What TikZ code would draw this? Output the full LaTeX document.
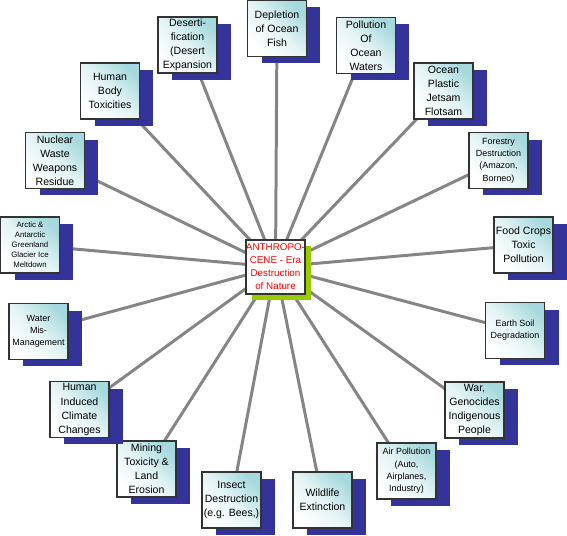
\documentclass[tikz,border=0pt]{standalone}
\usepackage{fontspec}
\setmainfont{Liberation Sans}
\usetikzlibrary{shadows,backgrounds}
\definecolor{anthnavy}{HTML}{333399}
\definecolor{anthteal}{HTML}{A6D9DD}
\definecolor{anthlime}{HTML}{99CC00}
\definecolor{anthlink}{HTML}{858585}
\definecolor{anthred}{HTML}{FF0000}

\begin{document}
\begin{tikzpicture}[x=0.02cm,y=-0.02cm,
  issue/.style={rectangle,draw=black!80,line width=.7pt,top color=anthteal,bottom color=white,middle color=anthteal!30!white,shading angle=-45,
    minimum width=1.18cm,minimum height=1.12cm,inner sep=0pt,align=center,
    font=\fontsize{6}{8}\selectfont,
    drop shadow={shadow xshift=.28cm,shadow yshift=-.14cm,fill=anthnavy,opacity=1}},
  issue small/.style={issue,font=\fontsize{5.1}{7}\selectfont},
  issue tiny/.style={issue,font=\fontsize{4.45}{5.7}\selectfont},
  hub/.style={rectangle,draw=black!80,line width=.7pt,fill=white,text=anthred,
    minimum width=1.16cm,minimum height=1.08cm,inner sep=0pt,align=center,
    font=\fontsize{5.6}{7.4}\selectfont,
    drop shadow={shadow xshift=.12cm,shadow yshift=-.12cm,fill=anthlime,opacity=1}},
  link/.style={anthlink,line width=1.7pt}]
\useasboundingbox (0,0) rectangle (567,536);
% centre
\node[hub] (hub) at (275.5,267) {ANTHROPO-\\CENE - Era\\Destruction\\of Nature};
% top half
\node[issue] (fish) at (277,28.5) {Depletion\\of Ocean\\Fish};
\node[issue] (desert) at (187.5,45) {Deserti-\\fication\\(Desert\\Expansion};
\node[issue] (waters) at (366,45.5) {Pollution\\Of\\Ocean\\Waters};
\node[issue] (plastic) at (443.5,91) {Ocean\\Plastic\\Jetsam\\Flotsam};
\node[issue small] (forest) at (498.5,160.5) {Forestry\\Destruction\\(Amazon,\\Borneo)};
\node[issue] (crops) at (523.5,245) {Food Crops\\Toxic\\Pollution};
\node[issue tiny] (arctic) at (30,245) {Arctic \&\\Antarctic\\Greenland\\Glacier Ice\\Meltdown};
\node[issue] (nuclear) at (55,160.5) {Nuclear\\Waste\\Weapons\\Residue};
\node[issue] (body) at (110,91) {Human\\Body\\Toxicities};
% bottom half
\node[issue small] (soil) at (515,330.5) {Earth Soil\\Degradation};
\node[issue] (war) at (474.5,410) {War,\\Genocides\\Indigenous\\People};
\node[issue small] (air) at (406.5,471) {Air Pollution\\(Auto,\\Airplanes,\\Industry)};
\node[issue] (wildlife) at (322.5,500) {Wildlife\\Extinction};
\node[issue] (insect) at (231.5,500) {Insect\\Destruction\\(e.g. Bees,)};
\node[issue] (mining) at (146.5,469) {Mining\\Toxicity \&\\Land\\Erosion};
\node[issue] (climate) at (79.5,409.5) {Human\\Induced\\Climate\\Changes};
\node[issue small] (water) at (38.5,331.5) {Water\\Mis-\\Management};
% spokes
\begin{scope}[on background layer]
\foreach \n in {fish,desert,waters,plastic,forest,crops,soil,war,air,wildlife,insect,mining,climate,water,arctic,nuclear,body}
  \draw[link] (hub.center) -- (\n.center);
\end{scope}
\end{tikzpicture}
\end{document}
